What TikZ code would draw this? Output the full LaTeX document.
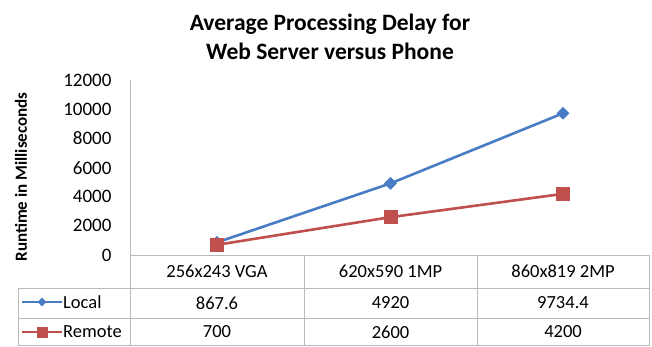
\documentclass[tikz,border=0pt]{standalone}
\usepackage{fontspec}
\setmainfont{Carlito}
\usetikzlibrary{shapes.geometric}
\definecolor{xlblue}{RGB}{72,124,196}
\definecolor{xlred}{RGB}{192,80,77}
\definecolor{xlgrid}{RGB}{185,185,185}

\begin{document}
\begin{tikzpicture}[x=1pt,y=-1pt,every node/.style={font=\fontsize{18.5}{22}\selectfont},
      grid/.style={draw=xlgrid,line width=0.9pt},
      lline/.style={draw=xlblue,line width=2.6pt},
      rline/.style={draw=xlred,line width=2.6pt},
      lmark/.style={diamond,fill=xlblue,inner sep=0pt,minimum size=13pt},
      rmark/.style={rectangle,fill=xlred,inner sep=0pt,minimum size=14pt}]
    \useasboundingbox[fill=white] (0,0) rectangle (652,346);
    % Title and axis label
    \node[font=\fontsize{23.5}{29}\selectfont\bfseries,align=center] (title) at (330,37)
      {Average Processing Delay for\\Web Server versus Phone};
    \node[rotate=90,font=\fontsize{17}{20}\selectfont\bfseries] (ytitle) at (21,177) {Runtime in Milliseconds};
    % Value axis
    \foreach \v in {0,2000,...,12000}{
      \node[anchor=east,font=\fontsize{19}{22}\selectfont] (tick\v) at (115,{255-\v*0.01455}) {\v};}
    \draw[grid] (130,80) -- (130,346);
    % Data table
    \draw[grid] (130,255) -- (649,255);
    \foreach \y in {288,318,345}{\draw[grid] (18,\y) -- (649,\y);}
    \draw[grid] (18,288) -- (18,346);
    \foreach \x in {304,477,649}{\draw[grid] (\x,255) -- (\x,346);}
    \foreach \x/\c/\n in {217/256x243 VGA/c1,390.5/620x590 1MP/c2,563/860x819 2MP/c3}{
      \node (\n) at (\x,271) {\c};}
    \foreach \x/\v/\n in {217/867.6/lv1,390.5/4920/lv2,563/9734.4/lv3}{
      \node (\n) at (\x,303) {\v};}
    \foreach \x/\v/\n in {217/700/rv1,390.5/2600/rv2,563/4200/rv3}{
      \node (\n) at (\x,332) {\v};}
    % Legend keys
    \coordinate (lka) at (22,302);
    \coordinate (lkb) at (62,302);
    \coordinate (rka) at (22,332);
    \coordinate (rkb) at (62,332);
    \draw[lline,line width=2pt] (lka) -- (lkb);
    \draw[rline,line width=2pt] (rka) -- (rkb);
    \node[lmark,minimum size=9pt] (lkm) at (42,302) {};
    \node[rmark,minimum size=11pt] (rkm) at (42,332) {};
    \node[anchor=west,inner sep=1pt] (lname) at (lkb) {Local};
    \node[anchor=west,inner sep=1pt] (rname) at (rkb) {Remote};
    % Series
    \foreach \x/\v/\n in {217/867.6/1,390.5/4920/2,563/9734.4/3}{
      \coordinate (l\n) at (\x,{255-\v*0.01455});}
    \foreach \x/\v/\n in {217/700/1,390.5/2600/2,563/4200/3}{
      \coordinate (r\n) at (\x,{255-\v*0.01455});}
    \draw[lline] (l1) -- (l2) -- (l3);
    \draw[rline] (r1) -- (r2) -- (r3);
    \foreach \n in {1,2,3}{\node[lmark] (lm\n) at (l\n) {};}
    \foreach \n in {1,2,3}{\node[rmark] (rm\n) at (r\n) {};}
\end{tikzpicture}
\end{document}
